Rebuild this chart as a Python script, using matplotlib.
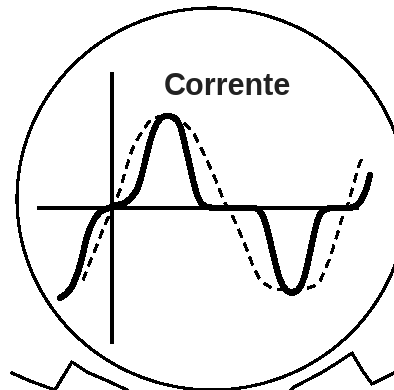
import matplotlib
matplotlib.use("Agg")
import matplotlib.pyplot as plt
from matplotlib.patches import Ellipse

# Thick waveform (distorted current), pixel coordinates
thick_x = [60, 66, 72, 78, 82, 86, 90, 95, 100, 106, 112, 118, 125, 131, 137, 141, 145,
           149, 153, 157, 161, 165, 169, 173, 177, 181, 185, 189, 193, 197, 201, 206,
           215, 230, 245, 255, 259, 263, 267, 271, 275, 279, 283, 287, 292, 297, 301,
           305, 308, 311, 314, 317, 320, 324, 330, 340, 350, 356, 360, 364, 367, 370]
thick_y = [298, 294, 287, 272, 258, 240, 228, 218, 212, 209, 207, 205, 203, 198, 190, 178, 162,
           145, 132, 123, 118, 116, 116, 117, 120, 128, 145, 162, 180, 195, 203, 207,
           208, 208, 208, 208, 210, 216, 228, 245, 262, 277, 286, 291, 293, 291, 286,
           275, 262, 248, 234, 222, 214, 210, 208, 208, 208, 206, 202, 195, 187, 175]

# Thin dashed reference sine (voltage)
dash_x = [83, 90, 97, 102, 107, 113, 120, 125, 132, 137, 143, 149, 155, 161, 167, 173,
          179, 185, 193, 202, 210, 217, 223, 227, 233, 240, 247, 253, 259, 265, 272, 280,
          287, 294, 301, 308, 314, 320, 325, 330, 334, 338, 343, 347, 350, 354, 358, 363]
dash_y = [280, 262, 245, 232, 220, 207, 190, 172, 150, 140, 130, 122, 118, 116, 117, 118,
          120, 124, 132, 150, 167, 183, 199, 207, 217, 233, 250, 266, 278, 284, 288, 290,
          290, 290, 289, 288, 286, 281, 270, 258, 245, 232, 215, 207, 197, 183, 168, 155]

# Axes of the small diagram
haxis_x = [39, 357]
haxis_y = [208, 208]
vaxis_x = [112, 112]
vaxis_y = [74, 342]

# Zig-zag outline at the bottom
zig_left_x = [12, 30, 55, 64, 72, 87, 110, 127]
zig_left_y = [373, 381, 390, 375, 362, 372, 382, 390]
zig_right_x = [291, 294, 321, 337, 352, 362, 372, 394]
zig_right_y = [390, 387, 373, 363, 353, 370, 384, 373]

title_text = "Corrente"

fig = plt.figure(figsize=(3.94, 3.90), dpi=100)
ax = fig.add_axes([0, 0, 1, 1])
ax.set_xlim(0, 394)
ax.set_ylim(390, 0)
ax.axis("off")

ax.add_patch(Ellipse((212, 199), 390, 382, fill=False, edgecolor="black",
                     linewidth=1.5, antialiased=False))

ax.plot(haxis_x, haxis_y, color="black", linewidth=1.6, antialiased=False)
ax.plot(vaxis_x, vaxis_y, color="black", linewidth=1.6, antialiased=False)

ax.plot(dash_x, dash_y, color="black", linewidth=1.5, linestyle=(0, (4, 3)),
        antialiased=False)
ax.plot(thick_x, thick_y, color="black", linewidth=3.8, solid_joinstyle="round",
        solid_capstyle="round", antialiased=False)

ax.plot(zig_left_x, zig_left_y, color="black", linewidth=1.5, antialiased=False)
ax.plot(zig_right_x, zig_right_y, color="black", linewidth=1.5, antialiased=False)

ax.text(227, 87, title_text, fontsize=22, fontweight="bold", color="#222222",
        family=["Liberation Sans", "DejaVu Sans"], ha="center", va="center")

fig.savefig("out.png", dpi=100)
